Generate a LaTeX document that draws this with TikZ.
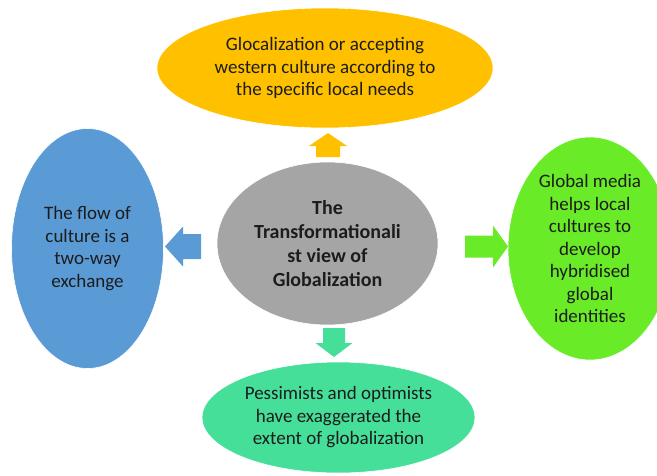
\documentclass[tikz,border=0pt]{standalone}
\usepackage{fontspec}
\setmainfont{Carlito}
\usepackage{xcolor}
\usepackage{tikz}
\usetikzlibrary{shapes.geometric}

\definecolor{goldA}{HTML}{FFC000}
\definecolor{greyA}{HTML}{A5A5A5}
\definecolor{blueA}{HTML}{5B9BD5}
\definecolor{limeA}{HTML}{6AEB28}
\definecolor{seaA}{HTML}{45DF9A}
\definecolor{inkA}{HTML}{1C1C1C}

% block arrow: colour, base point, angle, shaft length, head length, shaft half width, head half width
\newcommand{\fatarrow}[7]{%
  \fill[#1, shift={#2}, rotate=#3]
    (0,-#6) -- (#4,-#6) -- (#4,-#7) -- ({#4+#5},0) -- (#4,#7) -- (#4,#6) -- (0,#6) -- cycle;}

\begin{document}
\begin{tikzpicture}[x=1pt, y=-1pt,
  bubble/.style={ellipse, inner sep=0pt, draw=white, line width=0.6pt,
    align=center, text=inkA, font=\fontsize{19}{22.5}\selectfont},
  hub/.style={bubble, font=\fontsize{20}{24}\selectfont\bfseries}]
  \useasboundingbox (0,0) rectangle (657,475);
  \clip (0,0) rectangle (657,475);

  % centre idea
  \node[hub, fill=greyA, minimum width=221pt, minimum height=163pt]
    (core) at (327.5,243.5) {The\\Transformationali\\st view of\\Globalization};

  % the four views round it
  \node[bubble, fill=goldA, minimum width=336pt, minimum height=120pt]
    (glocal) at (325,68) {Glocalization or accepting\\western culture according to\\the specific local needs};
  \node[bubble, fill=blueA, minimum width=152pt, minimum height=240pt]
    (flow) at (87.5,248.5) {The flow of\\culture is a\\two-way\\exchange};
  \node[bubble, fill=limeA, minimum width=164pt, minimum height=223pt]
    (media) at (590,248.5) {Global media\\helps local\\cultures to\\develop\\hybridised\\global\\identities};
  \node[bubble, fill=seaA, minimum width=273pt, minimum height=111pt]
    (exag) at (338.5,417.5) {Pessimists and optimists\\have exaggerated the\\extent of globalization};

  % arrows out of the centre
  \fatarrow{goldA}{(328,157)}{90}{11}{13}{12}{19}
  \fatarrow{blueA}{(201,246.5)}{180}{18}{18}{12.5}{20}
  \fatarrow{limeA}{(465,246.5)}{0}{28}{15}{11}{21}
  \fatarrow{seaA}{(334,328)}{270}{15}{14}{11}{18.5}
\end{tikzpicture}
\end{document}
